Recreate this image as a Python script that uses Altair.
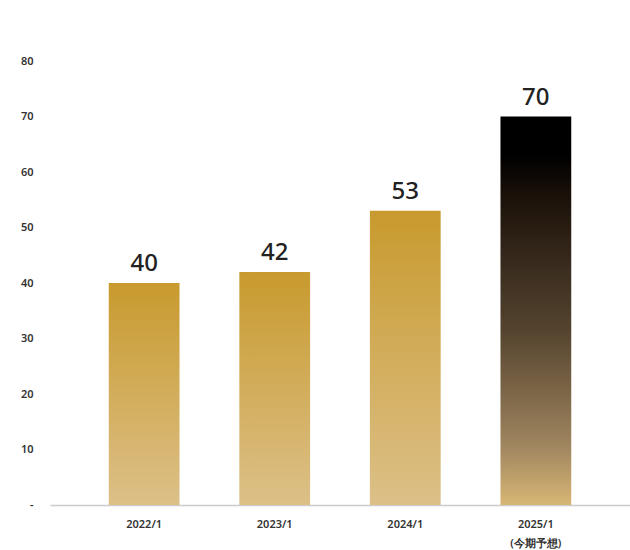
import altair as alt
import pandas as pd

# Fiscal periods and values
periods = ["2022/1", "2023/1", "2024/1", "2025/1"]
values = [40, 42, 53, 70]
forecast = [False, False, False, True]

df = pd.DataFrame({"period": periods, "value": values, "forecast": forecast})

FONT = "Noto Sans"

gold = {
    "gradient": "linear", "x1": 0, "y1": 0, "x2": 0, "y2": 1,
    "stops": [
        {"offset": 0, "color": "#C89A2E"},
        {"offset": 1, "color": "#DCC088"},
    ],
}
dark = {
    "gradient": "linear", "x1": 0, "y1": 0, "x2": 0, "y2": 1,
    "stops": [
        {"offset": 0, "color": "#000000"},
        {"offset": 0.1, "color": "#000000"},
        {"offset": 0.2, "color": "#1a1008"},
        {"offset": 0.4, "color": "#3c2e20"},
        {"offset": 0.55, "color": "#54442f"},
        {"offset": 0.7, "color": "#7a6446"},
        {"offset": 0.85, "color": "#a08660"},
        {"offset": 1, "color": "#D8B675"},
    ],
}

x_enc = alt.X(
    "period:N",
    sort=periods,
    scale=alt.Scale(paddingInner=0.458, paddingOuter=0.45),
    axis=alt.Axis(
        title=None,
        labelAngle=0,
        ticks=False,
        domainColor="#cccccc",
        domainWidth=1.5,
        labelFont=FONT,
        labelFontSize=11,
        labelFontWeight=600,
        labelColor="#333333",
        labelPadding=13,
        labelExpr="datum.value == '2025/1' ? ['2025/1', '(今期予想)'] : datum.value",
        labelLineHeight=19,
    ),
)
y_enc = alt.Y(
    "value:Q",
    scale=alt.Scale(domain=[0, 80]),
    axis=alt.Axis(
        title=None,
        values=[0, 10, 20, 30, 40, 50, 60, 70, 80],
        grid=False,
        domain=False,
        ticks=False,
        labelFont=FONT,
        labelFontSize=11,
        labelFontWeight=600,
        labelColor="#333333",
        labelPadding=17,
        labelExpr="datum.value == 0 ? '-' : datum.label",
    ),
)

base = alt.Chart(df).encode(x=x_enc, y=y_enc)

bars_gold = base.transform_filter("!datum.forecast").mark_bar(fill=gold)
bars_dark = base.transform_filter("datum.forecast").mark_bar(fill=dark)

labels = base.mark_text(
    dy=-12, font=FONT, fontSize=24, fontWeight=500, color="#222222", baseline="alphabetic"
).encode(text="value:Q")

chart = (
    alt.layer(bars_gold, bars_dark, labels)
    .properties(
        width=580,
        height=444,
        autosize=alt.AutoSizeParams(type="none"),
        padding={"left": 50, "top": 61, "right": 0, "bottom": 45},
    )
    .configure_view(stroke=None)
)

chart.save("out.html", embed_options={"renderer": "svg", "actions": False})
